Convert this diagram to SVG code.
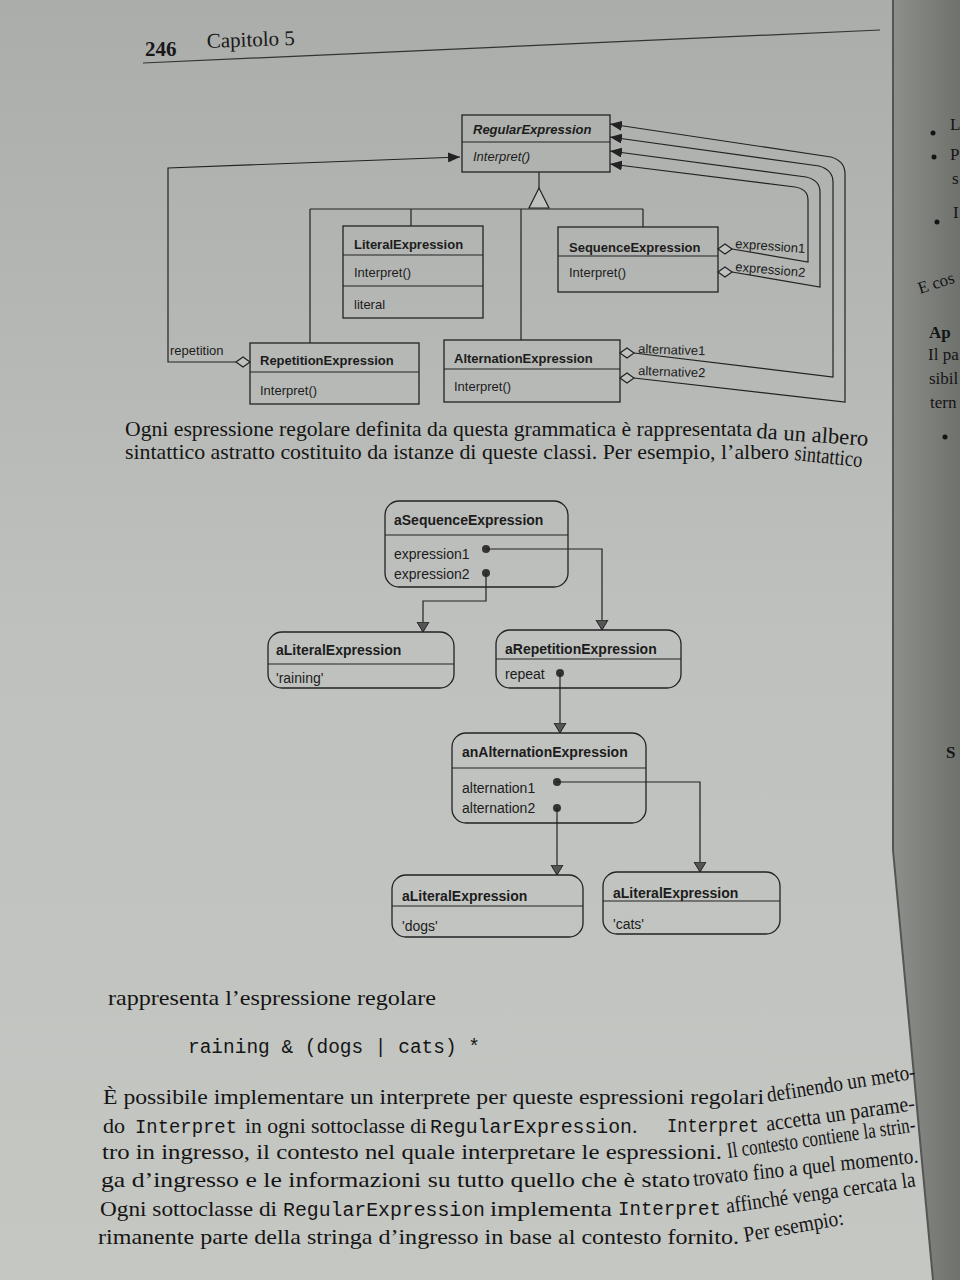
<svg xmlns="http://www.w3.org/2000/svg" width="960" height="1280" viewBox="0 0 960 1280">
<defs>
<linearGradient id="page" x1="0" y1="0" x2="0" y2="1">
<stop offset="0" stop-color="#abadaa"/>
<stop offset="0.5" stop-color="#bfc1be"/>
<stop offset="1" stop-color="#c5c7c3"/>
</linearGradient>
<linearGradient id="right" x1="0" y1="0" x2="1" y2="0">
<stop offset="0" stop-color="#8d8f8b"/>
<stop offset="1" stop-color="#6f716d"/>
</linearGradient>
<marker id="fa" viewBox="0 0 12 10" refX="12" refY="5" markerWidth="12" markerHeight="10" markerUnits="userSpaceOnUse" orient="auto">
<path d="M0,0 L12,5 L0,10 Z" fill="#222"/>
</marker>
<marker id="oa" viewBox="0 0 10 14" refX="10" refY="7" markerWidth="10" markerHeight="14" markerUnits="userSpaceOnUse" orient="auto">
<path d="M0,1 L10,7 L0,13 Z" fill="#555" stroke="#222" stroke-width="1"/>
</marker>
<style>
.box{fill:none;stroke:#222;stroke-width:1.3}
.ln{fill:none;stroke:#222;stroke-width:1.2}
.dia{fill:#c0c2bf;stroke:#222;stroke-width:1.2}
.t{font-family:"Liberation Sans",Arial,sans-serif;font-size:13px;fill:#1c1c1c}
.b{font-weight:bold}
.i{font-style:italic}
.ob{font-family:"Liberation Sans",Arial,sans-serif;font-size:14px;font-weight:bold;fill:#1c1c1c}
.ot{font-family:"Liberation Sans",Arial,sans-serif;font-size:14px;fill:#1c1c1c}
.dot{fill:#333}
.s{font-family:"Liberation Serif","Times New Roman",serif;font-size:22px;fill:#151515}
.m{font-family:"Liberation Mono","Courier New",monospace;font-size:20px;fill:#151515}
.rp{font-family:"Liberation Serif","Times New Roman",serif;font-size:17px;fill:#141414}
</style>
</defs>

<rect x="0" y="0" width="960" height="1280" fill="url(#page)"/>
<polygon points="893,0 893,850 933,1280 960,1280 960,0" fill="url(#right)"/>
<polyline points="893,0 893,850 933,1280" fill="none" stroke="#555" stroke-width="2"/>

<g id="header">
<text x="145" y="56" font-family="Liberation Serif,serif" font-size="21" font-weight="bold" fill="#181818">246</text>
<text x="207" y="48" font-family="Liberation Serif,serif" font-size="21" fill="#181818" transform="rotate(-2 207 48)">Capitolo 5</text>
<line x1="143" y1="63" x2="880" y2="30" stroke="#333" stroke-width="1.2"/>
</g>

<g id="class-diagram">
<g id="RegularExpression">
<rect class="box" x="462" y="115" width="148" height="57"/>
<line class="ln" x1="462" y1="142" x2="610" y2="142"/>
<text class="t b i" x="473" y="134">RegularExpression</text>
<text class="t i" x="473" y="161">Interpret()</text>
</g>
<g id="LiteralExpression">
<rect class="box" x="343" y="226" width="140" height="92"/>
<line class="ln" x1="343" y1="255" x2="483" y2="255"/>
<line class="ln" x1="343" y1="286" x2="483" y2="286"/>
<text class="t b" x="354" y="249">LiteralExpression</text>
<text class="t" x="354" y="277">Interpret()</text>
<text class="t" x="354" y="309">literal</text>
</g>
<g id="SequenceExpression">
<rect class="box" x="558" y="227" width="160" height="65"/>
<line class="ln" x1="558" y1="256" x2="718" y2="256"/>
<text class="t b" x="569" y="252">SequenceExpression</text>
<text class="t" x="569" y="277">Interpret()</text>
</g>
<g id="RepetitionExpression">
<rect class="box" x="250" y="343" width="169" height="61"/>
<line class="ln" x1="250" y1="372" x2="419" y2="372"/>
<text class="t b" x="260" y="365">RepetitionExpression</text>
<text class="t" x="260" y="395">Interpret()</text>
</g>
<g id="AlternationExpression">
<rect class="box" x="444" y="340" width="176" height="62"/>
<line class="ln" x1="444" y1="369" x2="620" y2="369"/>
<text class="t b" x="454" y="363">AlternationExpression</text>
<text class="t" x="454" y="391">Interpret()</text>
</g>

<g id="class-connectors">
<path class="ln" d="M539,172 V188"/>
<polygon class="dia" points="539,188 529,208 549,208"/>
<path class="ln" d="M310,209 H643"/>
<path class="ln" d="M310,209 V343 M411,209 V226 M521,209 V340 M643,209 V227"/>

<path class="ln" d="M236,362 H168 V168 L460,157" marker-end="url(#fa)"/>
<polygon class="dia" points="236,362 243,357 250,362 243,367"/>
<text class="t" x="170" y="355">repetition</text>

<path class="ln" d="M732,249 L808,262 V200 Q808,189 795,187 L610,164" marker-end="url(#fa)"/>
<path class="ln" d="M732,272 L820,287 V192 Q820,180 806,177 L610,151" marker-end="url(#fa)"/>
<path class="ln" d="M634,353 L833,377 V182 Q833,170 819,166 L610,137" marker-end="url(#fa)"/>
<path class="ln" d="M634,378 L845,402 V174 Q845,161 831,157 L610,124" marker-end="url(#fa)"/>
<polygon class="dia" points="718,249 725,244 732,249 725,254"/>
<polygon class="dia" points="718,272 725,267 732,272 725,277"/>
<polygon class="dia" points="620,353 627,348 634,353 627,358"/>
<polygon class="dia" points="620,378 627,373 634,378 627,383"/>
<text class="t" x="735" y="248" transform="rotate(4 735 248)">expression1</text>
<text class="t" x="735" y="271" transform="rotate(5 735 271)">expression2</text>
<text class="t" x="638" y="353" transform="rotate(2 638 353)">alternative1</text>
<text class="t" x="638" y="375" transform="rotate(2 638 375)">alternative2</text>
</g>
</g>

<g id="caption1">
<text class="s" x="125" y="436" textLength="627" lengthAdjust="spacingAndGlyphs">Ogni espressione regolare definita da questa grammatica è rappresentata</text>
<text class="s" x="756" y="438" font-size="19" textLength="112" lengthAdjust="spacingAndGlyphs" transform="rotate(4 756 438)">da un albero</text>
<text class="s" x="125" y="459" textLength="664" lengthAdjust="spacingAndGlyphs">sintattico astratto costituito da istanze di queste classi. Per esempio, l’albero</text>
<text class="s" x="794" y="460" font-size="19" textLength="68" lengthAdjust="spacingAndGlyphs" transform="rotate(6 794 460)">sintattico</text>
</g>

<g id="object-diagram">
<g id="aSequenceExpression">
<rect class="box" x="385" y="501" width="183" height="86" rx="14"/>
<line class="ln" x1="385" y1="535" x2="568" y2="535"/>
<text class="ob" x="394" y="525">aSequenceExpression</text>
<text class="ot" x="394" y="559">expression1</text>
<text class="ot" x="394" y="579">expression2</text>
<circle class="dot" cx="486" cy="549" r="4"/>
<circle class="dot" cx="486" cy="573" r="4"/>
</g>
<g id="aLiteralExpression-raining">
<rect class="box" x="268" y="632" width="186" height="56" rx="14"/>
<line class="ln" x1="268" y1="664" x2="454" y2="664"/>
<text class="ob" x="276" y="655">aLiteralExpression</text>
<text class="ot" x="276" y="683">'raining'</text>
</g>
<g id="aRepetitionExpression">
<rect class="box" x="496" y="630" width="185" height="58" rx="14"/>
<line class="ln" x1="496" y1="659" x2="681" y2="659"/>
<text class="ob" x="505" y="654">aRepetitionExpression</text>
<text class="ot" x="505" y="679">repeat</text>
<circle class="dot" cx="560" cy="673" r="4"/>
</g>
<g id="anAlternationExpression">
<rect class="box" x="452" y="733" width="194" height="90" rx="14"/>
<line class="ln" x1="452" y1="768" x2="646" y2="768"/>
<text class="ob" x="462" y="757">anAlternationExpression</text>
<text class="ot" x="462" y="793">alternation1</text>
<text class="ot" x="462" y="813">alternation2</text>
<circle class="dot" cx="557" cy="782" r="4"/>
<circle class="dot" cx="557" cy="808" r="4"/>
</g>
<g id="aLiteralExpression-dogs">
<rect class="box" x="392" y="875" width="191" height="62" rx="14"/>
<line class="ln" x1="392" y1="906" x2="583" y2="906"/>
<text class="ob" x="402" y="901">aLiteralExpression</text>
<text class="ot" x="402" y="931">'dogs'</text>
</g>
<g id="aLiteralExpression-cats">
<rect class="box" x="603" y="872" width="177" height="62" rx="14"/>
<line class="ln" x1="603" y1="901" x2="780" y2="901"/>
<text class="ob" x="613" y="898">aLiteralExpression</text>
<text class="ot" x="613" y="929">'cats'</text>
</g>
<g id="object-connectors">
<path class="ln" d="M486,549 H602 V630" marker-end="url(#oa)"/>
<path class="ln" d="M486,573 V601 H423 V632" marker-end="url(#oa)"/>
<path class="ln" d="M560,673 V733" marker-end="url(#oa)"/>
<path class="ln" d="M557,782 H700 V872" marker-end="url(#oa)"/>
<path class="ln" d="M557,808 V875" marker-end="url(#oa)"/>
</g>
</g>

<g id="body-text">
<text class="s" x="108" y="1005" textLength="328" lengthAdjust="spacingAndGlyphs">rappresenta l’espressione regolare</text>
<text class="m" x="188" y="1053" textLength="292" lengthAdjust="spacingAndGlyphs">raining &amp; (dogs | cats) *</text>

<text class="s" x="103" y="1104" textLength="661" lengthAdjust="spacingAndGlyphs">È possibile implementare un interprete per queste espressioni regolari</text>
<text class="s" x="768" y="1102" textLength="150" lengthAdjust="spacingAndGlyphs" transform="rotate(-9 768 1102)">definendo un meto-</text>

<text class="s" x="103" y="1133">do</text>
<text class="m" x="135" y="1133" textLength="102" lengthAdjust="spacingAndGlyphs">Interpret</text>
<text class="s" x="245" y="1133" textLength="182" lengthAdjust="spacingAndGlyphs">in ogni sottoclasse di</text>
<text class="m" x="430" y="1133" textLength="202" lengthAdjust="spacingAndGlyphs">RegularExpression</text>
<text class="s" x="632" y="1133">.</text>
<text class="m" x="667" y="1132" textLength="92" lengthAdjust="spacingAndGlyphs">Interpret</text>
<text class="s" x="767" y="1131" textLength="150" lengthAdjust="spacingAndGlyphs" transform="rotate(-8 767 1131)">accetta un parame-</text>

<text class="s" x="102" y="1159" textLength="620" lengthAdjust="spacingAndGlyphs">tro in ingresso, il contesto nel quale interpretare le espressioni.</text>
<text class="s" x="728" y="1158" textLength="190" lengthAdjust="spacingAndGlyphs" transform="rotate(-8 728 1158)">Il contesto contiene la strin-</text>

<text class="s" x="101" y="1187" textLength="589" lengthAdjust="spacingAndGlyphs">ga d’ingresso e le informazioni su tutto quello che è stato</text>
<text class="s" x="694" y="1186" textLength="226" lengthAdjust="spacingAndGlyphs" transform="rotate(-6 694 1186)">trovato fino a quel momento.</text>

<text class="s" x="100" y="1216" textLength="177" lengthAdjust="spacingAndGlyphs">Ogni sottoclasse di</text>
<text class="m" x="283" y="1216" textLength="202" lengthAdjust="spacingAndGlyphs">RegularExpression</text>
<text class="s" x="490" y="1216" textLength="122" lengthAdjust="spacingAndGlyphs">implementa</text>
<text class="m" x="618" y="1215" textLength="103" lengthAdjust="spacingAndGlyphs">Interpret</text>
<text class="s" x="727" y="1213" textLength="191" lengthAdjust="spacingAndGlyphs" transform="rotate(-8 727 1213)">affinché venga cercata la</text>

<text class="s" x="98" y="1244" textLength="641" lengthAdjust="spacingAndGlyphs">rimanente parte della stringa d’ingresso in base al contesto fornito.</text>
<text class="s" x="745" y="1242" textLength="101" lengthAdjust="spacingAndGlyphs" transform="rotate(-10 745 1242)">Per esempio:</text>
</g>

<g id="right-page">
<circle cx="933" cy="133" r="2.5" fill="#141414"/>
<circle cx="934" cy="157" r="2.5" fill="#141414"/>
<circle cx="937" cy="222" r="2.5" fill="#141414"/>
<circle cx="945" cy="437" r="2.5" fill="#141414"/>
<text class="rp" x="950" y="130">L</text>
<text class="rp" x="950" y="160">P</text>
<text class="rp" x="952" y="184">s</text>
<text class="rp" x="953" y="218">I</text>
<text class="rp" x="920" y="294" font-size="15" transform="rotate(-18 920 294)">E cos</text>
<text class="rp" x="929" y="338" font-size="21" font-weight="bold">Ap</text>
<text class="rp" x="928" y="360" font-size="16">Il pa</text>
<text class="rp" x="929" y="384" font-size="16">sibil</text>
<text class="rp" x="930" y="408" font-size="16">tern</text>
<text class="rp" x="946" y="758" font-size="22" font-weight="bold">S</text>
</g>
</svg>
